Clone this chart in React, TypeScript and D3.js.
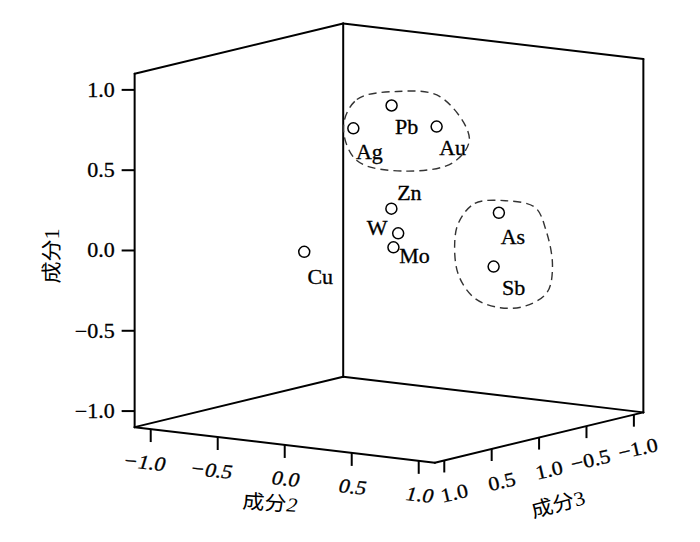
import React from "react";
import * as d3 from "d3";

// ---- data (rotated component loadings) ----
const elements = ["Cu", "Ag", "Pb", "Au", "Zn", "W", "Mo", "As", "Sb"];
const comp1 = [0.07, 0.72, 0.88, 0.75, 0.28, 0.11, 0.03, 0.27, -0.09];
const comp2 = [-0.01, -0.16, 0.09, 0.32, 0.23, 0.21, 0.21, 0.82, 0.71];
const comp3 = [0.88, 0.15, 0.1, -0.05, 0.3, 0.2, 0.25, 0.0, -0.1];

const ticks = [-1.0, -0.5, 0.0, 0.5, 1.0];
const comp1TickLabels = ["\u22121.0", "\u22120.5", "0.0", "0.5", "1.0"];
const comp2TickLabels = ["\u22121.0", "\u22120.5", "0.0", "0.5", "1.0"];
const comp3TickValues = [1.0, 0.5, 0.0, -0.5, -1.0];
const comp3TickLabels = ["1.0", "0.5", "1.0", "\u22120.5", "\u22121.0"];

// hand-drawn group outlines (on the comp3 = 0 plane): [comp1, comp2]
const groupAC1 = [0.69, 0.87, 0.95, 0.95, 0.71, 0.55, 0.46, 0.49];
const groupAC2 = [-0.34, -0.24, 0.06, 0.38, 0.6, 0.48, 0.12, -0.24];
const groupBC1 = [0.18, 0.31, 0.35, 0.33, 0.2, -0.02, -0.19, -0.29, -0.32, -0.28, -0.15, 0.04];
const groupBC2 = [0.52, 0.64, 0.87, 1.09, 1.17, 1.22, 1.18, 1.02, 0.83, 0.64, 0.52, 0.49];

// ---- layout ----
const W = 700, H = 542;
const X0 = 389, Y0 = 243.1;
const R1 = [-1.1, 1.1], R2 = [-1.12, 1.12], R3 = [-1.1, 1.1];
const s1y = d3.scaleLinear().domain([-1, 1]).range([160.6, -160.6]);
const s2x = d3.scaleLinear().domain([-1, 1]).range([-134, 134]);
const s2y = d3.scaleLinear().domain([-1, 1]).range([-15.9, 15.9]);
const s3x = d3.scaleLinear().domain([-1, 1]).range([94.8, -94.8]);
const s3y = d3.scaleLinear().domain([-1, 1]).range([-22.9, 22.9]);

const proj = (c1: number, c2: number, c3: number): [number, number] => [
  X0 + s2x(c2) + s3x(c3),
  Y0 + s1y(c1) + s2y(c2) + s3y(c3),
];

const labelOffset: Record<string, [number, number]> = {
  Cu: [16, 25], Ag: [16, 24], Pb: [15, 22], Au: [16, 21], Zn: [18, -16],
  W: [-21, -5], Mo: [21, 9], As: [14, 24], Sb: [20, 21],
};

const SERIF = "'Liberation Serif', 'Times New Roman', serif";
const CJK = "'Noto Sans CJK SC', sans-serif";
const STRETCH = 1.1;
const TXT = { stroke: "#000", strokeWidth: 0.3 };

export default function App() {
  const edges: [number, number, number][][] = [
    [[R1[0], R2[0], R3[1]], [R1[1], R2[0], R3[1]]],
    [[R1[1], R2[0], R3[1]], [R1[1], R2[0], R3[0]]],
    [[R1[0], R2[0], R3[0]], [R1[1], R2[0], R3[0]]],
    [[R1[1], R2[0], R3[0]], [R1[1], R2[1], R3[0]]],
    [[R1[0], R2[1], R3[0]], [R1[1], R2[1], R3[0]]],
    [[R1[0], R2[0], R3[1]], [R1[0], R2[0], R3[0]]],
    [[R1[0], R2[0], R3[0]], [R1[0], R2[1], R3[0]]],
    [[R1[0], R2[0], R3[1]], [R1[0], R2[1], R3[1]]],
    [[R1[0], R2[1], R3[1]], [R1[0], R2[1], R3[0]]],
  ];
  const line = d3.line<[number, number]>().curve(d3.curveCatmullRomClosed.alpha(0.5));
  const outlineA = line(groupAC1.map((c1, i) => proj(c1, groupAC2[i], 0)));
  const outlineB = line(groupBC1.map((c1, i) => proj(c1, groupBC2[i], 0)));

  return (
    <svg width={W} height={H} style={{ position: "absolute", left: 0, top: 0, background: "#fff" }}>
      <rect width={W} height={H} fill="#fff" />
      {edges.map((e, i) => {
        const a = proj(...e[0]);
        const b = proj(...e[1]);
        return <line key={i} x1={a[0]} y1={a[1]} x2={b[0]} y2={b[1]} stroke="#000" strokeWidth={2} strokeLinecap="round" />;
      })}
      {/* comp1 axis ticks */}
      {ticks.map((t, i) => {
        const [x, y] = proj(t, R2[0], R3[1]);
        return (
          <g key={"t1" + i}>
            <line x1={x - 13} y1={y} x2={x} y2={y} stroke="#000" strokeWidth={2} />
            <text transform={`translate(${x - 20},${y}) scale(${STRETCH},1)`} textAnchor="end" dy="0.35em" fontFamily={SERIF} fontSize={20} {...TXT}>
              {comp1TickLabels[i]}
            </text>
          </g>
        );
      })}
      {/* comp2 axis ticks */}
      {ticks.map((t, i) => {
        const [x, y] = proj(R1[0], t, R3[1]);
        return (
          <g key={"t2" + i}>
            <line x1={x} y1={y} x2={x} y2={y + 13} stroke="#000" strokeWidth={2} />
            <text transform={`translate(${x + 14},${y + 42}) rotate(6) scale(${STRETCH},1)`} textAnchor="end" fontFamily={SERIF} fontStyle="italic" fontSize={20} {...TXT}>
              {comp2TickLabels[i]}
            </text>
          </g>
        );
      })}
      {/* comp3 axis ticks */}
      {comp3TickValues.map((t, i) => {
        const [x, y] = proj(R1[0], R2[1], t);
        return (
          <g key={"t3" + i}>
            <line x1={x} y1={y} x2={x} y2={y + 12} stroke="#000" strokeWidth={2} />
            <text transform={`translate(${x + 25},${y + 36}) rotate(-13) scale(${STRETCH},1)`} textAnchor="end" fontFamily={SERIF} fontSize={20} {...TXT}>
              {comp3TickLabels[i]}
            </text>
          </g>
        );
      })}
      {/* axis titles */}
      <text transform={`translate(52,256) rotate(-90) scale(${STRETCH},1)`} textAnchor="middle" dy="0.35em" fontSize={20}>
        <tspan fontFamily={CJK}>成分</tspan><tspan fontFamily={SERIF}>1</tspan>
      </text>
      <text transform={`translate(270,503) rotate(4) scale(${STRETCH},1)`} textAnchor="middle" dy="0.35em" fontSize={20}>
        <tspan fontFamily={CJK}>成分</tspan><tspan fontFamily={SERIF} fontStyle="italic">2</tspan>
      </text>
      <text transform={`translate(558,504) rotate(-15) scale(${STRETCH},1)`} textAnchor="middle" dy="0.35em" fontSize={20}>
        <tspan fontFamily={CJK}>成分</tspan><tspan fontFamily={SERIF}>3</tspan>
      </text>
      {/* group outlines */}
      <path d={outlineA || ""} fill="none" stroke="#333" strokeWidth={1.4} strokeDasharray="8,5" />
      <path d={outlineB || ""} fill="none" stroke="#333" strokeWidth={1.4} strokeDasharray="8,5" />
      {/* points */}
      {elements.map((el, i) => {
        const [x, y] = proj(comp1[i], comp2[i], comp3[i]);
        const [dx, dy] = labelOffset[el];
        return (
          <g key={el}>
            <circle cx={x} cy={y} r={5.5} fill="#fff" stroke="#000" strokeWidth={1.5} />
            <text transform={`translate(${x + dx},${y + dy}) scale(${STRETCH},1)`} textAnchor="middle" dy="0.35em" fontFamily={SERIF} fontSize={20} {...TXT}>
              {el}
            </text>
          </g>
        );
      })}
    </svg>
  );
}
